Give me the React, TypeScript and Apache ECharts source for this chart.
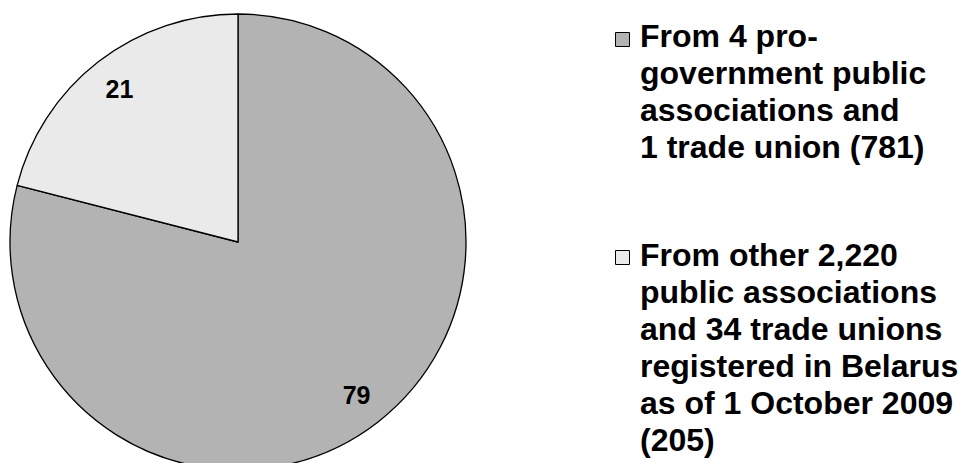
import React, { useEffect, useRef } from "react";
import * as echarts from "echarts";

// Share of cases (%) by originating organisation, with counts in the legend
const categories = [
  "From 4 pro-\ngovernment public\nassociations and\n1 trade union (781)",
  "From other 2,220\npublic associations\nand 34 trade unions\nregistered in Belarus\nas of 1 October 2009\n(205)",
];
const shares = [79, 21];
const sliceColors = ["#b3b3b3", "#eaeaea"];

const FONT = "'Liberation Sans', Arial, Helvetica, sans-serif";

// vertical position (top of text block) of each legend entry
const entryTops = [17, 236];

export default function App() {
  const ref = useRef<HTMLDivElement>(null);

  useEffect(() => {
    document.body.style.margin = "0";
    if (!ref.current) return;
    const chart = echarts.init(ref.current, undefined, { renderer: "svg" });

    const data = categories.map((name, i) => ({
      name,
      value: shares[i],
      itemStyle: { color: sliceColors[i] },
    }));

    // square markers, one column
    const markerLegend = {
      orient: "vertical",
      left: 615,
      top: 32,
      padding: 0,
      itemWidth: 14,
      itemHeight: 14,
      itemGap: 203,
      icon: "rect",
      formatter: () => "",
      itemStyle: { borderColor: "#000", borderWidth: 1 },
      textStyle: { fontSize: 10 },
      data: categories,
    };

    // entry texts, each laid out on its own so the blocks align at the top
    const textLegends = categories.map((name, i) => ({
      orient: "vertical",
      left: 635,
      top: entryTops[i],
      padding: 0,
      itemWidth: 0,
      itemHeight: 0,
      icon: "none",
      textStyle: {
        fontFamily: FONT,
        fontWeight: "bold",
        fontSize: 32,
        lineHeight: 37,
        color: "#000",
      },
      data: [name],
    }));

    chart.setOption({
      animation: false,
      backgroundColor: "#ffffff",
      legend: [markerLegend, ...textLegends],
      series: [
        {
          type: "pie",
          center: [238, 242],
          radius: [0, 228],
          startAngle: 90,
          clockwise: true,
          label: { show: false },
          labelLine: { show: false },
          emphasis: { disabled: true },
          itemStyle: { borderColor: "#000", borderWidth: 1.3 },
          data,
        },
        // value labels placed along an outer ring of the same slices
        {
          type: "pie",
          center: [238, 242],
          radius: [153, 228],
          startAngle: 90,
          clockwise: true,
          silent: true,
          emphasis: { disabled: true },
          itemStyle: { color: "rgba(0,0,0,0)", borderWidth: 0 },
          label: {
            show: true,
            position: "inside",
            formatter: "{c}",
            fontFamily: FONT,
            fontWeight: "bold",
            fontSize: 25,
            color: "#000",
          },
          labelLine: { show: false },
          data: categories.map((name, i) => ({ name, value: shares[i] })),
        },
      ],
    });

    return () => chart.dispose();
  }, []);

  return <div ref={ref} style={{ width: 959, height: 463 }} />;
}
